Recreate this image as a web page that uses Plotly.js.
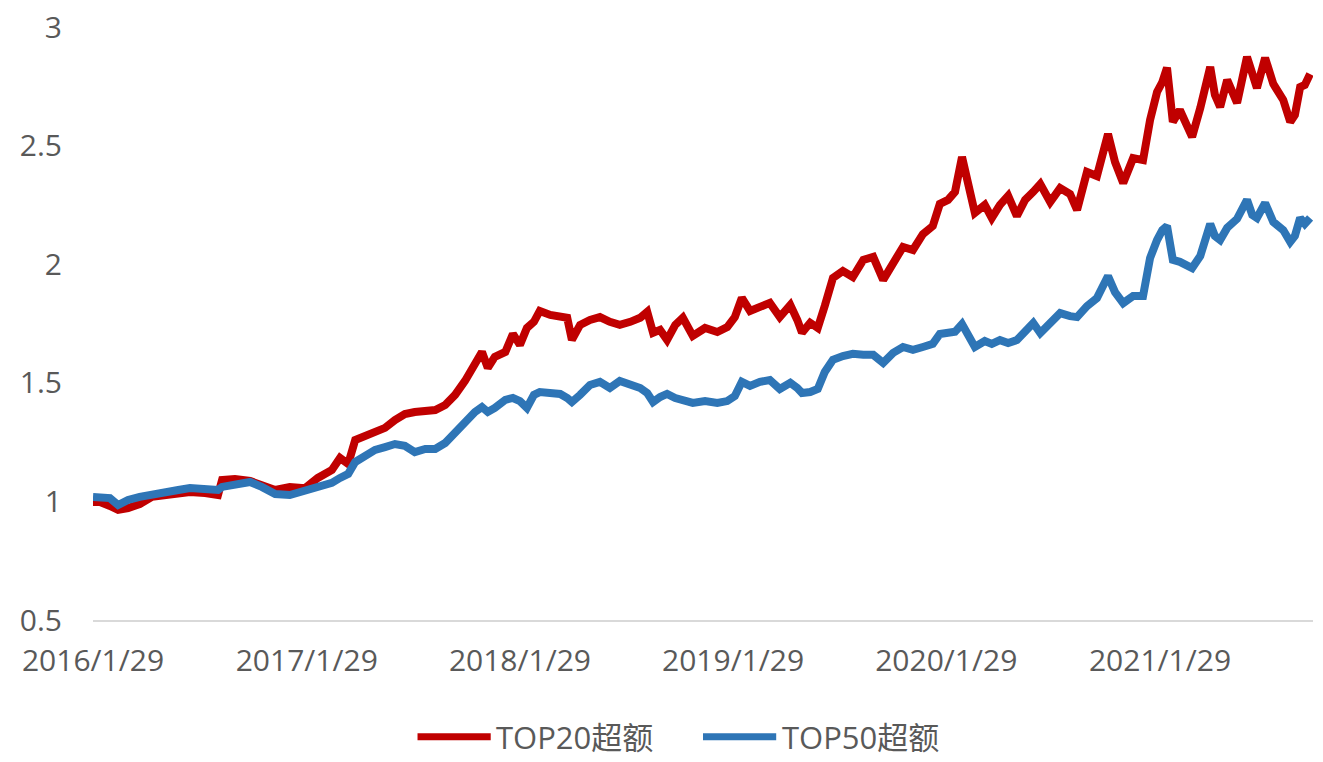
<!DOCTYPE html>
<html>
<head>
<meta charset="utf-8">
<script src="https://cdn.plot.ly/plotly-3.0.1.min.js"></script>
<style>
  html, body { margin: 0; padding: 0; background: #ffffff; }
  #chart { width: 1323px; height: 762px; }
</style>
</head>
<body>
<div id="chart"></div>
<script>
const dates = [
  "2016-01-29","2016-02-10","2016-02-27","2016-03-12","2016-03-29","2016-04-18","2016-05-09","2016-05-31","2016-06-23","2016-07-13",
  "2016-08-08","2016-08-30","2016-09-06","2016-09-28","2016-10-24","2016-11-13","2016-12-06","2016-12-31","2017-01-26","2017-02-17",
  "2017-03-13","2017-03-27","2017-04-10","2017-04-22","2017-05-09","2017-05-26","2017-06-12","2017-06-29","2017-07-16","2017-08-02",
  "2017-08-20","2017-09-06","2017-09-23","2017-10-10","2017-10-27","2017-11-13","2017-11-25","2017-12-05","2017-12-17","2018-01-04",
  "2018-01-17","2018-01-29","2018-02-10","2018-02-22","2018-03-04","2018-03-22","2018-04-08","2018-04-20","2018-04-28","2018-05-12",
  "2018-05-29","2018-06-15","2018-07-02","2018-07-19","2018-08-06","2018-08-23","2018-09-04","2018-09-14","2018-09-26","2018-10-08",
  "2018-10-22","2018-11-04","2018-11-21","2018-12-12","2019-01-02","2019-01-19","2019-02-01","2019-02-13","2019-02-27","2019-03-16",
  "2019-04-02","2019-04-19","2019-05-07","2019-05-19","2019-05-27","2019-06-10","2019-06-23","2019-07-05","2019-07-19","2019-08-05",
  "2019-08-22","2019-09-09","2019-09-26","2019-10-13","2019-10-30","2019-11-16","2019-12-03","2019-12-20","2020-01-06","2020-01-18",
  "2020-02-01","2020-02-13","2020-02-25","2020-03-06","2020-03-18","2020-04-04","2020-04-16","2020-04-30","2020-05-14","2020-05-29",
  "2020-06-12","2020-06-26","2020-07-08","2020-07-25","2020-08-11","2020-08-28","2020-09-09","2020-09-26","2020-10-13","2020-11-01",
  "2020-11-13","2020-11-27","2020-12-14","2020-12-31","2021-01-12","2021-01-24","2021-02-02","2021-02-10","2021-02-20","2021-03-04",
  "2021-03-16","2021-03-25","2021-04-08","2021-04-25","2021-05-03","2021-05-12","2021-05-24","2021-06-10","2021-06-27","2021-07-06",
  "2021-07-14","2021-07-28","2021-08-11","2021-08-28","2021-09-09","2021-09-17","2021-09-26","2021-10-04","2021-10-13"
];

const top20 = [
  0.997, 0.997, 0.981, 0.964, 0.972, 0.989, 1.019, 1.027, 1.040, 1.040,
  1.035, 1.027, 1.090, 1.094, 1.086, 1.065, 1.048, 1.061, 1.056, 1.099,
  1.132, 1.183, 1.158, 1.259, 1.276, 1.297, 1.310, 1.343, 1.368, 1.377,
  1.385, 1.385, 1.406, 1.449, 1.508, 1.588, 1.630, 1.563, 1.609, 1.630,
  1.706, 1.660, 1.731, 1.757, 1.803, 1.786, 1.782, 1.774, 1.681, 1.744,
  1.765, 1.777, 1.757, 1.744, 1.757, 1.774, 1.799, 1.711, 1.723, 1.681,
  1.744, 1.774, 1.698, 1.731, 1.714, 1.735, 1.777, 1.858, 1.803, 1.820,
  1.837, 1.777, 1.828, 1.765, 1.711, 1.753, 1.731, 1.824, 1.942, 1.971,
  1.946, 2.018, 2.031, 1.934, 2.005, 2.073, 2.060, 2.127, 2.161, 2.254,
  2.271, 2.305, 2.452, 2.342, 2.216, 2.250, 2.195, 2.250, 2.288, 2.203,
  2.271, 2.305, 2.338, 2.262, 2.321, 2.296, 2.229, 2.389, 2.372, 2.549,
  2.431, 2.342, 2.447, 2.439, 2.608, 2.726, 2.768, 2.828, 2.600, 2.650,
  2.583, 2.537, 2.659, 2.832, 2.714, 2.663, 2.777, 2.680, 2.874, 2.798,
  2.743, 2.870, 2.760, 2.693, 2.600, 2.629, 2.747, 2.756, 2.802
];

const top50 = [
  1.019, 1.019, 1.014, 0.985, 1.006, 1.019, 1.031, 1.040, 1.048, 1.056,
  1.056, 1.048, 1.061, 1.073, 1.082, 1.061, 1.031, 1.027, 1.044, 1.056,
  1.078, 1.099, 1.116, 1.166, 1.191, 1.217, 1.229, 1.242, 1.234, 1.208,
  1.221, 1.221, 1.246, 1.293, 1.335, 1.377, 1.398, 1.377, 1.394, 1.428,
  1.436, 1.423, 1.394, 1.449, 1.461, 1.453, 1.453, 1.436, 1.419, 1.449,
  1.491, 1.504, 1.478, 1.508, 1.495, 1.478, 1.457, 1.419, 1.440, 1.453,
  1.436, 1.428, 1.415, 1.423, 1.415, 1.423, 1.444, 1.504, 1.487, 1.504,
  1.512, 1.474, 1.500, 1.478, 1.457, 1.461, 1.474, 1.546, 1.597, 1.613,
  1.622, 1.618, 1.618, 1.584, 1.626, 1.651, 1.639, 1.651, 1.664, 1.706,
  1.710, 1.715, 1.748, 1.706, 1.651, 1.676, 1.664, 1.680, 1.668, 1.680,
  1.718, 1.752, 1.710, 1.756, 1.794, 1.781, 1.777, 1.823, 1.857, 1.950,
  1.882, 1.836, 1.866, 1.866, 2.026, 2.102, 2.144, 2.161, 2.018, 2.010,
  1.993, 1.984, 2.035, 2.170, 2.119, 2.102, 2.153, 2.191, 2.271, 2.208,
  2.195, 2.258, 2.178, 2.144, 2.094, 2.119, 2.195, 2.170, 2.195
];

const seriesNames = ["TOP20超额", "TOP50超额"];
const seriesColors = ["#C00000", "#2E75B6"];

const xTickVals = ["2016-01-29","2017-01-29","2018-01-29","2019-01-29","2020-01-29","2021-01-29"];
const xTickText = ["2016/1/29","2017/1/29","2018/1/29","2019/1/29","2020/1/29","2021/1/29"];
const yTickVals = [0.5, 1, 1.5, 2, 2.5, 3];
const yTickText = ["0.5", "1", "1.5", "2", "2.5", "3"];

const FONT = "'Open Sans', 'Noto Sans CJK SC', sans-serif";
const TXT = "#595959";

const traces = [
  { x: dates, y: top20, name: seriesNames[0], type: "scatter", mode: "lines",
    line: { color: seriesColors[0], width: 8 }, showlegend: false, hoverinfo: "skip" },
  { x: dates, y: top50, name: seriesNames[1], type: "scatter", mode: "lines",
    line: { color: seriesColors[1], width: 8 }, showlegend: false, hoverinfo: "skip" }
];

// legend drawn in paper coordinates
const legY = -0.197;
const legendItems = [
  { x0: 0.266, x1: 0.326, tx: 0.329 },
  { x0: 0.500, x1: 0.560, tx: 0.563 }
];
const shapes = legendItems.map((it, i) => ({
  type: "line", xref: "paper", yref: "paper",
  x0: it.x0, x1: it.x1, y0: legY, y1: legY,
  line: { color: seriesColors[i], width: 7 }
}));
const annotations = legendItems.map((it, i) => ({
  xref: "paper", yref: "paper", x: it.tx, y: legY,
  xanchor: "left", yanchor: "middle", showarrow: false,
  text: seriesNames[i],
  font: { family: FONT, size: 31, color: TXT }
}));

const layout = {
  width: 1323, height: 762,
  margin: { l: 93, r: 10, t: 27, b: 142 },
  paper_bgcolor: "#ffffff", plot_bgcolor: "#ffffff",
  font: { family: FONT, color: TXT, size: 30 },
  xaxis: {
    type: "date",
    range: ["2016-01-29", "2021-10-18"],
    tickmode: "array", tickvals: xTickVals, ticktext: xTickText,
    showgrid: false, zeroline: false,
    showline: true, linecolor: "#D9D9D9", linewidth: 2,
    ticks: "", ticklabelstandoff: 13,
    tickfont: { family: FONT, size: 30, color: TXT }
  },
  yaxis: {
    range: [0.5, 3],
    tickmode: "array", tickvals: yTickVals, ticktext: yTickText,
    showgrid: false, zeroline: false, showline: false,
    ticks: "", ticklabelstandoff: 30,
    tickfont: { family: FONT, size: 30, color: TXT }
  },
  shapes: shapes,
  annotations: annotations,
  showlegend: false
};

Plotly.newPlot("chart", traces, layout, { displayModeBar: false, staticPlot: true });
</script>
</body>
</html>
